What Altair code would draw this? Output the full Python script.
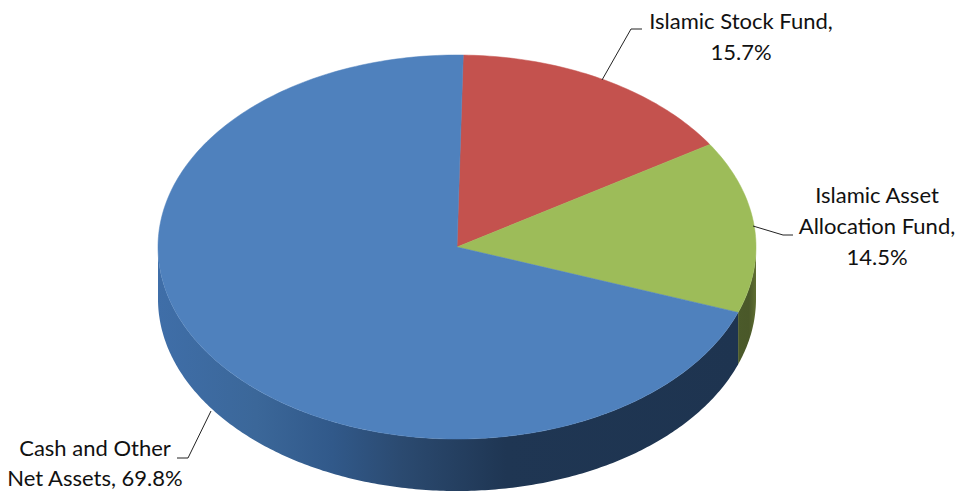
import math
import altair as alt
import pandas as pd

slices = ["Islamic Stock Fund", "Islamic Asset Allocation Fund", "Cash and Other Net Assets"]
shares = [15.7, 14.5, 69.8]
face_colors = ["#c4524e", "#9dbc59", "#4f81bd"]
label_rows = [
    ["Islamic Stock Fund,", "15.7%"],
    ["Islamic Asset", "Allocation Fund,", "14.5%"],
    ["Cash and Other", "Net Assets, 69.8%"],
]

W, H = 952, 483
CX, CY, RX, RY, DEPTH = 449, 239, 299, 192, 52
ROTATION = 1.2
x_dom = [-CX / RX, (W - CX) / RX]
y_dom = [(CY - H) / RY, CY / RY]
x_s = alt.Scale(domain=x_dom, nice=False, zero=False)
y_s = alt.Scale(domain=y_dom, nice=False, zero=False)
X = alt.X("x:Q", scale=x_s, axis=None)
Y = alt.Y("y:Q", scale=y_s, axis=None)


def px(xp, yp):
    return (xp - 8 - CX) / RX, (CY - (yp - 8)) / RY


def pt(deg):
    a = math.radians(deg)
    return math.sin(a), math.cos(a)


layers = []
# side walls
bounds = [ROTATION]
for s in shares:
    bounds.append(bounds[-1] + s * 3.6)
green_end = bounds[2]
depth = DEPTH / RY
blue_wall = [pt(d) for d in [green_end + (270 - green_end) * i / 240 for i in range(241)]]
green_wall = [pt(d) for d in [90 + (green_end - 90) * i / 30 for i in range(31)]]
for pts, stops in [
    (blue_wall, [("#3f6ea8", 0), ("#3b6799", 0.17), ("#31598a", 0.3), ("#2b4a70", 0.42), ("#1f3653", 0.6), ("#1e3450", 1)]),
    (green_wall, [("#4b5a2a", 0), ("#4a5829", 0.6), ("#5f6e32", 1)]),
]:
    df = pd.DataFrame({"x": [p[0] for p in pts], "y": [p[1] for p in pts]})
    df["y2"] = df["y"] - depth
    layers.append(
        alt.Chart(df).mark_area(
            color=alt.Gradient(
                gradient="linear",
                stops=[alt.GradientStop(color=c, offset=o) for c, o in stops],
                x1=0, x2=1, y1=0, y2=0,
            )
        ).encode(X, Y, y2="y2:Q")
    )

# top face wedges
for i, name in enumerate(slices):
    a0, a1 = bounds[i], bounds[i + 1]
    n = max(2, int(a1 - a0))
    pts = [(0.0, 0.0)] + [pt(a0 + (a1 - a0) * k / n) for k in range(n + 1)] + [(0.0, 0.0)]
    df = pd.DataFrame({"x": [p[0] for p in pts], "y": [p[1] for p in pts], "k": range(len(pts))})
    layers.append(
        alt.Chart(df).mark_line(fill=face_colors[i], stroke=face_colors[i], strokeWidth=0.5, interpolate="linear")
        .encode(X, Y, order="k:Q")
    )

# leader lines
leaders = [
    [(602, 80), (631, 29), (642, 29)],
    [(753, 226), (783, 235), (793, 235)],
    [(211, 411), (188, 458), (177, 458)],
]
for pts in leaders:
    conv = [px(*p) for p in pts]
    df = pd.DataFrame({"x": [p[0] for p in conv], "y": [p[1] for p in conv], "k": range(len(conv))})
    layers.append(alt.Chart(df).mark_line(color="#222222", strokeWidth=1).encode(X, Y, order="k:Q"))

# labels
anchors = [(741, 22, 31), (877, 196, 31), (95, 449, 30)]
rows = []
for lines, (ax, ay, step) in zip(label_rows, anchors):
    for j, t in enumerate(lines):
        x, y = px(ax, ay + j * step)
        rows.append({"x": x, "y": y, "t": t})
layers.append(
    alt.Chart(pd.DataFrame(rows))
    .mark_text(font="Lato", fontSize=22, color="#111111", align="center", baseline="middle")
    .encode(X, Y, text="t:N")
)

chart = (
    alt.layer(*layers)
    .properties(width=W, height=H, padding=0, autosize=alt.AutoSizeParams(type="none"))
    .configure_view(stroke=None)
)
chart.save("out.html", embed_options={"renderer": "svg", "actions": False})
